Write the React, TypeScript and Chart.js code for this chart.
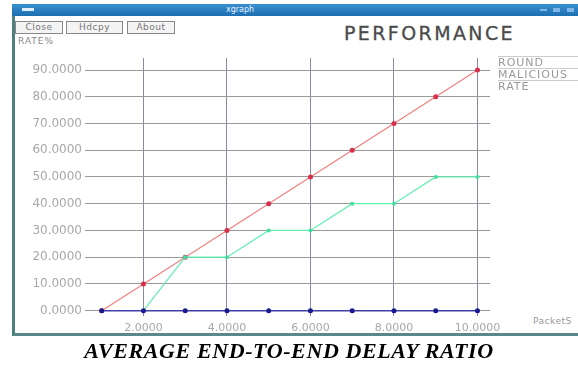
import React, { useEffect, useRef } from "react";
import { Chart, registerables } from "chart.js";

Chart.register(...registerables);

const xValues = [1, 2, 3, 4, 5, 6, 7, 8, 9, 10];
const roundValues = [0, 10, 20, 30, 40, 50, 60, 70, 80, 90];
const maliciousX = [2, 3, 4, 5, 6, 7, 8, 9, 10];
const maliciousValues = [0, 20, 20, 30, 30, 40, 40, 50, 50];
const rateValues = [0, 0, 0, 0, 0, 0, 0, 0, 0, 0];
const seriesNames = ["ROUND", "MALICIOUS", "RATE"];
const xTicks = [2, 4, 6, 8, 10];
const yTicks = [0, 10, 20, 30, 40, 50, 60, 70, 80, 90];

const legendPlugin = {
  id: "xgLegend",
  afterDraw(chart: any) {
    const ctx = chart.ctx;
    ctx.save();
    ctx.font = "11px 'DejaVu Sans'";
    ctx.textBaseline = "middle";
    ctx.textAlign = "left";
    const x0 = 498;
    const ys = [63, 75, 87];
    chart.data.datasets.forEach((ds: any, i: number) => {
      ctx.strokeStyle = "rgba(170,170,170,0.6)";
      ctx.lineWidth = 1;
      ctx.beginPath();
      ctx.moveTo(x0, ys[i] - 6.5);
      ctx.lineTo(578, ys[i] - 6.5);
      ctx.stroke();
      ctx.fillStyle = "#9a9a9a";
      (ctx as any).letterSpacing = "1px";
      ctx.fillText(ds.label, x0, ys[i]);
    });
    ctx.restore();
  },
};

export default function App() {
  const ref = useRef<HTMLCanvasElement>(null);
  useEffect(() => {
    if (!ref.current) return;
    const chart = new Chart(ref.current, {
      type: "line",
      data: {
        datasets: [
          {
            label: seriesNames[0],
            data: xValues.map((x, i) => ({ x, y: roundValues[i] })),
            borderColor: "#f08080",
            backgroundColor: "#d83048",
            pointBackgroundColor: "#d83048",
            pointBorderColor: "#d83048",
            borderWidth: 1.2,
            pointRadius: 2.5,
            pointBorderWidth: 0,
            order: 2,
          },
          {
            label: seriesNames[1],
            data: maliciousX.map((x, i) => ({ x, y: maliciousValues[i] })),
            borderColor: "#60f0b0",
            backgroundColor: "#40e0a0",
            pointBackgroundColor: "#40e0a0",
            pointBorderColor: "#40e0a0",
            borderWidth: 1.2,
            pointRadius: 2,
            pointBorderWidth: 0,
            order: 1,
          },
          {
            label: seriesNames[2],
            data: xValues.map((x, i) => ({ x, y: rateValues[i] })),
            borderColor: "#4040a8",
            backgroundColor: "#1a1a90",
            pointBackgroundColor: "#1a1a90",
            pointBorderColor: "#1a1a90",
            borderWidth: 1.5,
            pointRadius: 2.5,
            pointBorderWidth: 0,
            order: 0,
          },
        ],
      },
      options: {
        animation: false,
        responsive: false,
        maintainAspectRatio: false,
        layout: { padding: { left: 0, top: 58, right: 88, bottom: 32 } },
        plugins: { legend: { display: false }, tooltip: { enabled: false } },
        scales: {
          x: {
            type: "linear",
            min: 0.6,
            max: 10.3,
            afterBuildTicks: (s: any) => {
              s.ticks = xTicks.map((v) => ({ value: v }));
            },
            afterFit: (s: any) => {
              s.height = 18;
            },
            border: { display: false },
            grid: { color: "#8a8aa8", lineWidth: 1, drawTicks: false },
            ticks: {
              padding: 6,
              color: "#a8a8a8",
              font: { family: "'DejaVu Sans'", size: 11 },
              callback: (v: any) => Number(v).toFixed(4),
              maxRotation: 0,
            },
          },
          y: {
            type: "linear",
            min: -2,
            max: 94.5,
            afterBuildTicks: (s: any) => {
              s.ticks = yTicks.map((v) => ({ value: v }));
            },
            afterFit: (s: any) => {
              s.width = 85;
            },
            border: { display: false },
            grid: { color: "#9a9a9a", lineWidth: 1, drawTicks: false },
            ticks: {
              padding: 3,
              color: "#a8a8a8",
              font: { family: "'DejaVu Sans'", size: 12 },
              callback: (v: any) => Number(v).toFixed(4),
            },
          },
        },
      },
      plugins: [legendPlugin],
    });
    return () => chart.destroy();
  }, []);

  const btn: React.CSSProperties = {
    position: "absolute",
    top: 21,
    height: 11,
    border: "1px solid #888",
    background: "#f4f4f4",
    font: "9px 'DejaVu Sans'",
    color: "#777",
    lineHeight: "11px",
    textAlign: "center",
    letterSpacing: "0.5px",
  };

  return (
    <div style={{ position: "absolute", left: 0, top: 0, width: 578, height: 366, background: "#fff", overflow: "hidden" }}>
      <div style={{ position: "absolute", left: 12, top: 4, width: 566, height: 332, background: "#fff", borderLeft: "3px solid #4f8080", borderBottom: "3px solid #5a8888", boxSizing: "border-box" }} />
      <div style={{ position: "absolute", left: 12, top: 4, width: 566, height: 12, background: "linear-gradient(#3a8fd0, #1c6fb0)" }} />
      <div style={{ position: "absolute", left: 22, top: 8, width: 12, height: 3, background: "#dfefff" }} />
      <div style={{ position: "absolute", left: 200, top: 4, width: 80, height: 12, color: "#e8f2ff", font: "8px 'DejaVu Sans'", lineHeight: "12px", textAlign: "center" }}>xgraph</div>
      <div style={{ position: "absolute", left: 540, top: 9, width: 7, height: 2, background: "#7fb8e8" }} />
      <div style={{ position: "absolute", left: 553, top: 8, width: 7, height: 4, background: "#7fb8e8" }} />
      <div style={{ position: "absolute", left: 567, top: 8, width: 7, height: 4, background: "#7fb8e8" }} />
      <div style={{ ...btn, left: 15, width: 46 }}>Close</div>
      <div style={{ ...btn, left: 66, width: 55 }}>Hdcpy</div>
      <div style={{ ...btn, left: 127, width: 46 }}>About</div>
      <div style={{ position: "absolute", left: 18, top: 36, font: "9px 'DejaVu Sans'", color: "#888", letterSpacing: "1px" }}>RATE%</div>
      <div style={{ position: "absolute", left: 344, top: 22, font: "19px 'DejaVu Sans'", color: "#4a4a4a", letterSpacing: "2.4px", WebkitTextStroke: "0.3px #4a4a4a" }}>PERFORMANCE</div>
      <div style={{ position: "absolute", left: 533, top: 316, font: "9px 'DejaVu Sans'", color: "#999", letterSpacing: "0.5px" }}>PacketS</div>
      <canvas ref={ref} width={578} height={366} style={{ position: "absolute", left: 0, top: 0, width: 578, height: 366 }} />
      <div style={{ position: "absolute", left: 0, top: 338, width: 578, textAlign: "center", font: "italic bold 22px 'Liberation Serif'", color: "#000", letterSpacing: "0.6px" }}>AVERAGE END-TO-END DELAY RATIO</div>
    </div>
  );
}
